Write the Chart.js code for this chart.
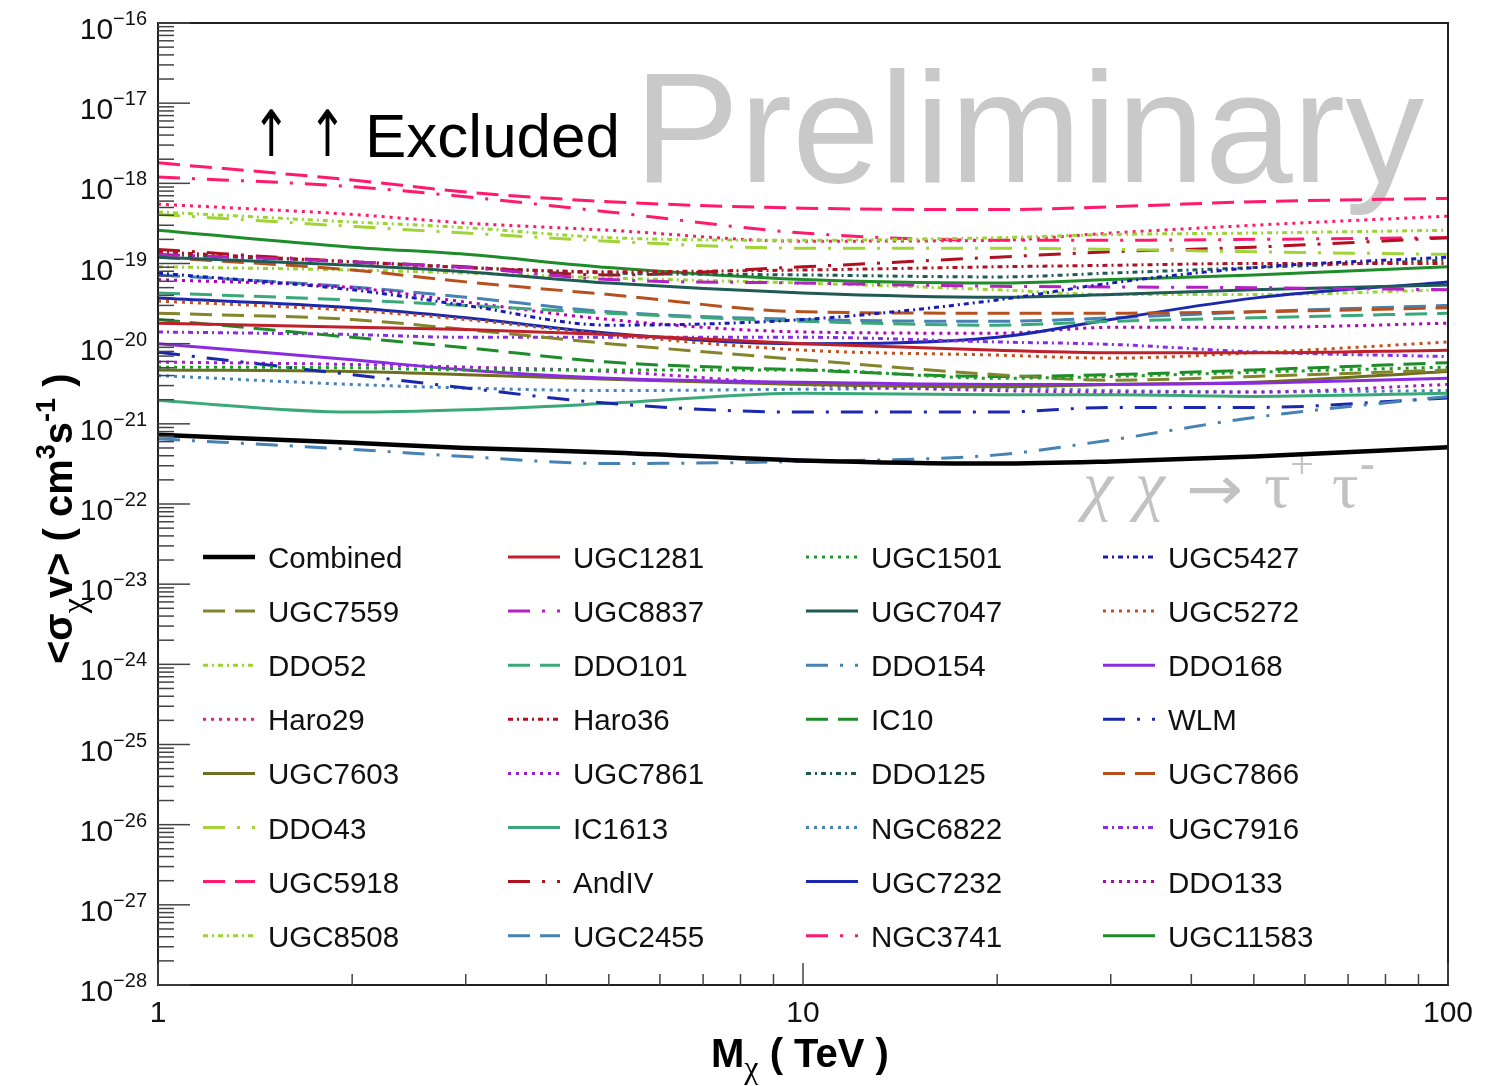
<!DOCTYPE html>
<html>
<head>
<meta charset="utf-8">
<script src="https://cdn.jsdelivr.net/npm/chart.js@4.4.1/dist/chart.umd.min.js"></script>
<style>
  body { margin: 0; background: #fff; }
  #wrap { width: 1507px; height: 1086px; }
</style>
</head>
<body>
<div id="wrap"><canvas id="limitsChart"></canvas></div>
<script>
// Dark matter mass points (TeV)
const massTeV = [1, 2, 3, 5, 10, 20, 30, 50, 100];

// Upper limits on <sigma v> (cm^3 s^-1)
const combined = [7.3e-22, 5.8e-22, 5.0e-22, 4.4e-22, 3.5e-22, 3.2e-22, 3.4e-22, 3.9e-22, 5.1e-22];
const ugc1281  = [1.8e-20, 1.6e-20, 1.5e-20, 1.3e-20, 1.0e-20, 8.3e-21, 7.7e-21, 7.7e-21, 8.3e-21];
const ugc1501  = [5.1e-21, 5.0e-21, 4.7e-21, 4.7e-21, 4.7e-21, 3.7e-21, 3.9e-21, 4.4e-21, 5.1e-21];
const ugc5427  = [7.6e-20, 4.7e-20, 3.0e-20, 1.7e-20, 2.0e-20, 3.5e-20, 5.7e-20, 8.9e-20, 1.2e-19];
const ugc7559  = [2.4e-20, 2.0e-20, 1.5e-20, 1.0e-20, 6.3e-21, 4.1e-21, 3.5e-21, 3.9e-21, 4.7e-21];
const ugc8837  = [1.3e-19, 1.05e-19, 8.9e-20, 6.3e-20, 5.7e-20, 5.2e-20, 5.1e-20, 5.0e-20, 4.7e-20];
const ugc7047  = [1.2e-19, 9.5e-20, 7.9e-20, 5.7e-20, 4.3e-20, 3.8e-20, 4.1e-20, 4.7e-20, 5.4e-20];
const ugc5272  = [3.4e-20, 2.6e-20, 2.0e-20, 1.3e-20, 8.3e-21, 7.2e-21, 6.6e-21, 7.7e-21, 1.05e-20];
const ddo52    = [4.4e-19, 3.3e-19, 2.8e-19, 2.1e-19, 1.95e-19, 2.1e-19, 2.3e-19, 2.4e-19, 2.6e-19];
const ddo101   = [4.3e-20, 3.5e-20, 3.0e-20, 2.4e-20, 1.9e-20, 1.7e-20, 1.9e-20, 2.1e-20, 2.4e-20];
const ddo154   = [6.5e-22, 4.8e-22, 3.9e-22, 3.2e-22, 3.4e-22, 4.1e-22, 6.3e-22, 1.2e-21, 2.2e-21];
const ddo168   = [1.0e-20, 6.3e-21, 4.7e-21, 3.7e-21, 3.3e-21, 3.1e-21, 3.1e-21, 3.2e-21, 3.7e-21];
const haro29   = [5.5e-19, 4.1e-19, 3.2e-19, 2.6e-19, 1.9e-19, 1.95e-19, 2.4e-19, 3.0e-19, 3.9e-19];
const haro36   = [1.4e-19, 1.05e-19, 8.9e-20, 7.9e-20, 8.3e-20, 9.1e-20, 9.5e-20, 1.0e-19, 1.0e-19];
const ic10     = [2.0e-20, 1.2e-20, 8.9e-21, 5.9e-21, 4.7e-21, 3.9e-21, 4.1e-21, 4.7e-21, 5.8e-21];
const wlm      = [7.8e-21, 4.1e-21, 2.8e-21, 1.8e-21, 1.4e-21, 1.4e-21, 1.6e-21, 1.6e-21, 2.1e-21];
const ugc7603  = [4.7e-21, 4.5e-21, 4.1e-21, 3.6e-21, 3.1e-21, 2.9e-21, 3.1e-21, 3.3e-21, 4.5e-21];
const ugc7861  = [5.9e-21, 5.5e-21, 5.1e-21, 4.5e-21, 3.1e-21, 2.6e-21, 2.5e-21, 2.5e-21, 3.1e-21];
const ddo125   = [1.3e-19, 1.05e-19, 8.9e-20, 7.6e-20, 7.2e-20, 6.8e-20, 7.6e-20, 8.9e-20, 1.1e-19];
const ugc7866  = [1.2e-19, 8.3e-20, 5.9e-20, 4.1e-20, 2.5e-20, 2.4e-20, 2.4e-20, 2.5e-20, 2.8e-20];
const ddo43    = [4.1e-19, 2.9e-19, 2.4e-19, 1.9e-19, 1.55e-19, 1.55e-19, 1.5e-19, 1.4e-19, 1.3e-19];
const ic1613   = [1.95e-21, 1.4e-21, 1.5e-21, 1.8e-21, 2.4e-21, 2.3e-21, 2.3e-21, 2.2e-21, 2.4e-21];
const ngc6822  = [4.0e-21, 3.1e-21, 2.8e-21, 2.6e-21, 2.7e-21, 2.8e-21, 2.6e-21, 2.5e-21, 2.6e-21];
const ugc7916  = [1.4e-20, 1.3e-20, 1.2e-20, 1.2e-20, 1.2e-20, 1.05e-20, 9.8e-21, 7.9e-21, 6.9e-21];
const ugc5918  = [1.8e-18, 1.1e-18, 7.8e-19, 5.9e-19, 4.9e-19, 4.7e-19, 5.1e-19, 5.9e-19, 6.5e-19];
const andIV    = [1.5e-19, 1.05e-19, 9.1e-20, 7.2e-20, 9.1e-20, 1.2e-19, 1.4e-19, 1.6e-19, 2.1e-19];
const ugc7232  = [3.7e-20, 2.8e-20, 2.1e-20, 1.35e-20, 1.0e-20, 1.2e-20, 2.0e-20, 3.7e-20, 5.9e-20];
const ddo133   = [6.3e-20, 5.0e-20, 3.3e-20, 2.0e-20, 1.4e-20, 1.35e-20, 1.6e-20, 1.6e-20, 1.8e-20];
const ugc8508  = [9.1e-20, 8.3e-20, 7.6e-20, 6.6e-20, 5.7e-20, 4.7e-20, 4.1e-20, 4.1e-20, 4.7e-20];
const ugc2455  = [7.2e-20, 5.1e-20, 3.8e-20, 2.5e-20, 2.0e-20, 1.9e-20, 2.1e-20, 2.5e-20, 3.0e-20];
const ngc3741  = [1.2e-18, 9.1e-19, 6.8e-19, 4.4e-19, 2.4e-19, 1.95e-19, 1.95e-19, 2.0e-19, 2.1e-19];
const ugc11583 = [2.6e-19, 1.6e-19, 1.3e-19, 8.9e-20, 6.3e-20, 5.7e-20, 6.3e-20, 7.2e-20, 9.1e-20];

// Axis tick labels
const yTickExponents = [-16, -17, -18, -19, -20, -21, -22, -23, -24, -25, -26, -27, -28];
const xTickValues = [1, 10, 100];
const xTickLabels = ['1', '10', '100'];

// line styles (ROOT-like)
const SOLID = [];
const DASH = [22, 10];
const DOT = [3, 5];
const DASHDOT = [22, 12, 3, 12];
const SMALLDD = [5, 4, 2, 4];

// legend order: row by row, 4 columns
const series = [
    ['Combined', combined, '#000000', SOLID, 4.5],
    ['UGC1281', ugc1281, '#c0202a', SOLID, 3],
    ['UGC1501', ugc1501, '#1f9a2a', DOT, 3],
    ['UGC5427', ugc5427, '#1a1ab8', SMALLDD, 3],
    ['UGC7559', ugc7559, '#84842a', DASH, 3],
    ['UGC8837', ugc8837, '#b420c4', DASHDOT, 3],
    ['UGC7047', ugc7047, '#1f5a55', SOLID, 3],
    ['UGC5272', ugc5272, '#c0501e', DOT, 3],
    ['DDO52', ddo52, '#9ad430', SMALLDD, 3],
    ['DDO101', ddo101, '#3aa878', DASH, 3],
    ['DDO154', ddo154, '#4682b4', DASHDOT, 3],
    ['DDO168', ddo168, '#8a2be2', SOLID, 3],
    ['Haro29', haro29, '#ff1a6e', DOT, 3],
    ['Haro36', haro36, '#b01020', SMALLDD, 3],
    ['IC10', ic10, '#1e8c28', DASH, 3],
    ['WLM', wlm, '#1a28b0', DASHDOT, 3],
    ['UGC7603', ugc7603, '#6e6e1e', SOLID, 3],
    ['UGC7861', ugc7861, '#a21cc8', DOT, 3],
    ['DDO125', ddo125, '#1f5a55', SMALLDD, 3],
    ['UGC7866', ugc7866, '#b8501e', DASH, 3],
    ['DDO43', ddo43, '#a2d43a', DASHDOT, 3],
    ['IC1613', ic1613, '#3aa878', SOLID, 3],
    ['NGC6822', ngc6822, '#4682b4', DOT, 3],
    ['UGC7916', ugc7916, '#8a2be2', SMALLDD, 3],
    ['UGC5918', ugc5918, '#ff1a6e', DASH, 3],
    ['AndIV', andIV, '#b01020', DASHDOT, 3],
    ['UGC7232', ugc7232, '#1a28b0', SOLID, 3],
    ['DDO133', ddo133, '#b000b8', DOT, 3],
    ['UGC8508', ugc8508, '#9ad430', SMALLDD, 3],
    ['UGC2455', ugc2455, '#4682b4', DASH, 3],
    ['NGC3741', ngc3741, '#ff1a6e', DASHDOT, 3],
    ['UGC11583', ugc11583, '#1e8c28', SOLID, 3]
];

const datasets = series.map(([name, vals, color, dash, width]) => ({
    label: name,
    data: massTeV.map((m, i) => ({ x: m, y: vals[i] })),
    borderColor: color,
    backgroundColor: color,
    borderDash: dash,
    borderWidth: width,
    pointRadius: 0,
    cubicInterpolationMode: 'monotone',
    fill: false
}));

// draw a run of text pieces; each piece: [text, font, dy]
function drawRich(ctx, parts, x, y) {
    let cx = x;
    parts.forEach(([t, font, dy]) => {
        ctx.font = font;
        ctx.fillText(t, cx, y + (dy || 0));
        cx += ctx.measureText(t).width;
    });
    return cx - x;
}
function richWidth(ctx, parts) {
    let w = 0;
    parts.forEach(([t, font]) => { ctx.font = font; w += ctx.measureText(t).width; });
    return w;
}

const SANS = '"Liberation Sans", Arial, Helvetica, sans-serif';
const SERIF = '"Liberation Serif", "DejaVu Serif", serif';

const rootFrame = {
    id: 'rootFrame',
    beforeDatasetsDraw(chart) {
        const ctx = chart.ctx;
        ctx.save();
        ctx.fillStyle = '#c9c9c9';
        ctx.textBaseline = 'alphabetic';
        ctx.textAlign = 'left';
        ctx.font = '158px ' + SANS;
        ctx.fillText('Preliminary', 634, 182);

        // process label, placed piece by piece
        ctx.fillStyle = '#c2c2c2';
        ctx.font = 'italic 68px ' + SERIF;
        ctx.fillText('χ', 1083, 508);
        ctx.fillText('χ', 1135, 508);
        ctx.font = '62px "DejaVu Sans", sans-serif';
        ctx.save();
        ctx.translate(1186, 510);
        ctx.scale(1.1, 1);
        ctx.fillText('→', 0, 0);
        ctx.restore();
        ctx.font = '66px ' + SERIF;
        ctx.fillText('τ', 1264, 507);
        ctx.fillText('τ', 1332, 507);
        ctx.font = '42px ' + SERIF;
        ctx.fillText('+', 1290, 478);
        ctx.font = 'bold 44px ' + SERIF;
        ctx.fillText('-', 1360, 478);
        ctx.restore();
    },
    afterDraw(chart) {
        const ctx = chart.ctx;
        const xs = chart.scales.x, ys = chart.scales.y;
        const a = chart.chartArea;
        ctx.save();

        // frame
        ctx.strokeStyle = '#222';
        ctx.lineWidth = 2;
        ctx.strokeRect(a.left, a.top, a.right - a.left, a.bottom - a.top);

        // y ticks (inside, log minor)
        ctx.strokeStyle = '#444';
        ctx.lineWidth = 1.5;
        yTickExponents.forEach(e => {
            const yp = ys.getPixelForValue(Math.pow(10, e));
            ctx.beginPath(); ctx.moveTo(a.left, yp); ctx.lineTo(a.left + 32, yp); ctx.stroke();
            if (e < -16) {
                for (let k = 2; k <= 9; k++) {
                    const ym = ys.getPixelForValue(k * Math.pow(10, e));
                    ctx.beginPath(); ctx.moveTo(a.left, ym); ctx.lineTo(a.left + 16, ym); ctx.stroke();
                }
            }
        });
        // x ticks
        xTickValues.forEach((v, i) => {
            const xp = xs.getPixelForValue(v);
            ctx.beginPath(); ctx.moveTo(xp, a.bottom); ctx.lineTo(xp, a.bottom - 22); ctx.stroke();
            if (i < xTickValues.length - 1) {
                for (let k = 2; k <= 9; k++) {
                    const xm = xs.getPixelForValue(k * v);
                    ctx.beginPath(); ctx.moveTo(xm, a.bottom); ctx.lineTo(xm, a.bottom - 11); ctx.stroke();
                }
            }
        });

        // y tick labels 10^e
        ctx.fillStyle = '#111';
        ctx.textBaseline = 'alphabetic';
        ctx.textAlign = 'left';
        yTickExponents.forEach(e => {
            const yp = ys.getPixelForValue(Math.pow(10, e));
            const parts = [['10', '30px ' + SANS, 16], ['\u2212' + String(-e), '20px ' + SANS, 2]];
            const w = richWidth(ctx, parts);
            drawRich(ctx, parts, 147 - w, yp);
        });
        // x tick labels
        ctx.textAlign = 'center';
        ctx.font = '30px ' + SANS;
        xTickValues.forEach((v, i) => {
            ctx.fillText(xTickLabels[i], xs.getPixelForValue(v), 1022);
        });

        // axis titles
        ctx.textAlign = 'left';
        ctx.fillStyle = '#000';
        drawRich(ctx, [
            ['M', 'bold 40px ' + SANS, 0],
            ['χ', '32px ' + SERIF, 11],
            [' ( TeV )', 'bold 40px ' + SANS, 0]
        ], 711, 1067);

        ctx.save();
        ctx.translate(72, 664);
        ctx.rotate(-Math.PI / 2);
        drawRich(ctx, [
            ['<σ', 'bold 40px ' + SANS, 0],
            ['χ', '34px ' + SERIF, 13],
            ['v> ( cm', 'bold 40px ' + SANS, 0],
            ['3', 'bold 27px ' + SANS, -17],
            ['s', 'bold 40px ' + SANS, 0],
            ['-1', 'bold 27px ' + SANS, -17],
            [' )', 'bold 40px ' + SANS, 0]
        ], 0, 0);
        ctx.restore();

        // excluded label
        ctx.fillStyle = '#000';
        ctx.font = '64px "DejaVu Sans", sans-serif';
        ctx.save();
        ctx.translate(252, 156);
        ctx.scale(0.72, 1);
        ctx.fillText('↑', 0, 0);
        ctx.fillText('↑', 78, 0);
        ctx.restore();
        ctx.font = '62px ' + SANS;
        ctx.fillText('Excluded', 365, 157);

        // legend, 4 columns
        const colX = [203, 508, 806, 1103];
        const row0 = 557, rowStep = 54.1;
        chart.data.datasets.forEach((ds, i) => {
            const c = i % 4, r = Math.floor(i / 4);
            const x0 = colX[c], yc = row0 + r * rowStep;
            ctx.strokeStyle = ds.borderColor;
            ctx.lineWidth = ds.borderWidth;
            ctx.setLineDash(ds.borderDash);
            ctx.beginPath(); ctx.moveTo(x0, yc); ctx.lineTo(x0 + 52, yc); ctx.stroke();
            ctx.setLineDash([]);
            ctx.fillStyle = '#111';
            ctx.font = '29.5px ' + SANS;
            ctx.fillText(ds.label, x0 + 65, yc + 11);
        });
        ctx.restore();
    }
};

const config = {
    type: 'line',
    data: { datasets: datasets },
    options: {
        responsive: true,
        maintainAspectRatio: false,
        animation: false,
        events: [],
        layout: { padding: { left: 158, right: 59, top: 23, bottom: 101 } },
        plugins: {
            legend: { display: false },
            title: { display: false },
            tooltip: { enabled: false }
        },
        scales: {
            x: { type: 'logarithmic', min: 1, max: 100, display: false },
            y: { type: 'logarithmic', min: 1e-28, max: 1e-16, display: false }
        }
    },
    plugins: [rootFrame]
};

const chartContext = document.getElementById('limitsChart').getContext('2d');
const limitsChart = new Chart(chartContext, config);
</script>
</body>
</html>
